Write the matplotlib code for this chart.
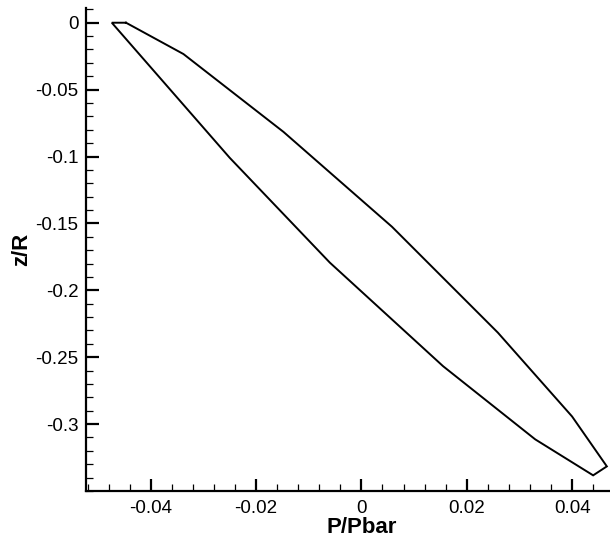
import matplotlib
matplotlib.use("Agg")
import matplotlib.pyplot as plt
from matplotlib.ticker import MultipleLocator

plt.rcParams['font.family'] = ['Liberation Sans', 'DejaVu Sans']
plt.rcParams['axes.unicode_minus'] = False

# Data
p_upper = [-0.0447, -0.0338, -0.0148, 0.0058, 0.0259, 0.0400, 0.0466]
z_upper = [0.0, -0.0234, -0.0816, -0.1525, -0.2316, -0.2943, -0.3316]
p_lower = [0.0440, 0.0330, 0.0155, -0.0060, -0.0250, -0.0474]
z_lower = [-0.3383, -0.3114, -0.2567, -0.1793, -0.1010, 0.0]

x_ticks = [-0.04, -0.02, 0.0, 0.02, 0.04]
x_tick_labels = ["-0.04", "-0.02", "0", "0.02", "0.04"]
y_ticks = [0.0, -0.05, -0.1, -0.15, -0.2, -0.25, -0.3]
y_tick_labels = ["0", "-0.05", "-0.1", "-0.15", "-0.2", "-0.25", "-0.3"]

fig = plt.figure(figsize=(6.1, 5.4), dpi=100)
ax = fig.add_axes([86/610, 49/540, 524/610, 483/540])

px = p_upper + p_lower + [p_upper[0]]
pz = z_upper + z_lower + [z_upper[0]]
ax.plot(px, pz, color='black', lw=1.4, solid_joinstyle='miter', clip_on=False)

ax.set_xlim(-0.0523, 0.0472)
ax.set_ylim(-0.35, 0.011)

for s in ['top', 'right']:
    ax.spines[s].set_visible(False)
for s in ['left', 'bottom']:
    ax.spines[s].set_linewidth(1.6)

ax.set_xticks(x_ticks)
ax.set_xticklabels(x_tick_labels)
ax.set_yticks(y_ticks)
ax.set_yticklabels(y_tick_labels)
ax.xaxis.set_minor_locator(MultipleLocator(0.004))
ax.yaxis.set_minor_locator(MultipleLocator(0.01))

ax.tick_params(which='major', direction='in', length=9, width=1.6, labelsize=13.5, pad=6.5)
ax.tick_params(which='minor', direction='in', length=5, width=0.9)
ax.tick_params(axis='y', which='major', pad=5.5)

ax.set_xlabel('P/Pbar', fontsize=16, fontweight='bold')
ax.set_ylabel('z/R', fontsize=16, fontweight='bold')
ax.xaxis.set_label_coords((361.4-86)/524, -0.053)
ax.yaxis.set_label_coords(-0.103, 0.5)

fig.savefig('out.png', dpi=100)
